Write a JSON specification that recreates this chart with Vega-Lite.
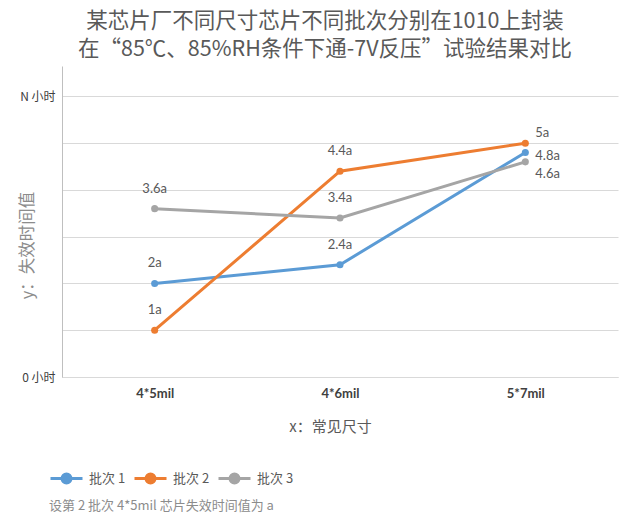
{
  "$schema": "https://vega.github.io/schema/vega-lite/v6.json",
  "width": 556,
  "height": 311,
  "autosize": {"type": "none"},
  "padding": {"left": 62, "top": 66, "right": 22, "bottom": 152},
  "background": "white",
  "title": {
    "text": ["某芯片厂不同尺寸芯片不同批次分别在1010上封装", "在“85℃、85%RH条件下通-7V反压”试验结果对比"],
    "anchor": "middle",
    "frame": "group",
    "dx": -15,
    "offset": 6,
    "fontSize": 21.5,
    "lineHeight": 28,
    "font": "Noto Sans CJK SC",
    "fontWeight": "normal",
    "color": "#595959"
  },
  "data": {
    "values": [
      {"size": "4*5mil", "batch": "批次 1", "value": 2, "label": "2a"},
      {"size": "4*6mil", "batch": "批次 1", "value": 2.4, "label": "2.4a"},
      {"size": "5*7mil", "batch": "批次 1", "value": 4.8, "label": "4.8a"},
      {"size": "4*5mil", "batch": "批次 2", "value": 1, "label": "1a"},
      {"size": "4*6mil", "batch": "批次 2", "value": 4.4, "label": "4.4a"},
      {"size": "5*7mil", "batch": "批次 2", "value": 5, "label": "5a"},
      {"size": "4*5mil", "batch": "批次 3", "value": 3.6, "label": "3.6a"},
      {"size": "4*6mil", "batch": "批次 3", "value": 3.4, "label": "3.4a"},
      {"size": "5*7mil", "batch": "批次 3", "value": 4.6, "label": "4.6a"}
    ]
  },
  "encoding": {
    "x": {
      "field": "size",
      "type": "nominal",
      "sort": ["4*5mil", "4*6mil", "5*7mil"],
      "scale": {"type": "point", "padding": 0.5},
      "axis": {
        "domainColor": "#d9d9d9",
        "ticks": false,
        "grid": false,
        "labelAngle": 0,
        "labelFont": "Lato",
        "labelFontWeight": "bold",
        "labelFontSize": 13,
        "labelColor": "#404040",
        "labelPadding": 10,
        "title": "x：常见尺寸",
        "titleFont": "Noto Sans CJK SC",
        "titleFontWeight": "normal",
        "titleFontSize": 15,
        "titleColor": "#595959",
        "titleX": 268,
        "titleY": 49,
        "titleBaseline": "middle"
      }
    },
    "y": {
      "field": "value",
      "type": "quantitative",
      "scale": {"domain": [0, 6.65], "nice": false},
      "axis": {
        "values": [0, 1, 2, 3, 4, 5, 6],
        "labelExpr": "datum.value == 6 ? 'N 小时' : datum.value == 0 ? '0 小时' : ''",
        "domainColor": "#bfbfbf",
        "ticks": false,
        "grid": true,
        "gridColor": "#d9d9d9",
        "labelFont": "Noto Sans CJK SC",
        "labelFontSize": 12,
        "labelColor": "#404040",
        "labelPadding": 7,
        "title": "y：失效时间值",
        "titleFont": "Noto Sans CJK SC",
        "titleFontWeight": "normal",
        "titleFontSize": 16.5,
        "titleColor": "#8c8c8c",
        "titleX": -35,
        "titleY": 179,
        "titleAngle": -90,
        "titleBaseline": "middle"
      }
    }
  },
  "layer": [
    {
      "mark": {"type": "line", "strokeWidth": 3, "strokeCap": "round", "point": {"filled": true, "size": 50}},
      "encoding": {
        "color": {
          "field": "batch",
          "type": "nominal",
          "scale": {"domain": ["批次 1", "批次 2", "批次 3"], "range": ["#5b9bd5", "#ed7d31", "#a5a5a5"]},
          "legend": {
            "orient": "none",
            "direction": "horizontal",
            "legendX": -13,
            "legendY": 395,
            "symbolType": "M-1,0L1,0M-0.28,0A0.28,0.28,0,1,1,0.28,0A0.28,0.28,0,1,1,-0.28,0Z",
            "symbolSize": 1024,
            "symbolStrokeWidth": 3,
            "labelFont": "Noto Sans CJK SC",
            "labelFontSize": 13,
            "labelColor": "#595959",
            "labelOffset": 5,
            "columnPadding": 2,
            "title": "设第 2 批次 4*5mil 芯片失效时间值为 a",
            "titleOrient": "bottom",
            "titleAnchor": "start",
            "titleFont": "Noto Sans CJK SC",
            "titleFontWeight": "normal",
            "titleFontSize": 13,
            "titleColor": "#8c8c8c",
            "titlePadding": 11,
            "titleLimit": 400
          }
        }
      }
    },
    {
      "transform": [{"filter": "datum.size != '5*7mil'"}],
      "mark": {"type": "text", "dy": -20, "baseline": "middle", "font": "Lato", "fontSize": 13, "color": "#595959"},
      "encoding": {"text": {"field": "label"}}
    },
    {
      "transform": [{"filter": "datum.size == '5*7mil' && datum.batch == '批次 2'"}],
      "mark": {"type": "text", "align": "left", "dx": 10, "dy": -10, "baseline": "middle", "font": "Lato", "fontSize": 13, "color": "#595959"},
      "encoding": {"text": {"field": "label"}}
    },
    {
      "transform": [{"filter": "datum.size == '5*7mil' && datum.batch == '批次 1'"}],
      "mark": {"type": "text", "align": "left", "dx": 10, "dy": 3, "baseline": "middle", "font": "Lato", "fontSize": 13, "color": "#595959"},
      "encoding": {"text": {"field": "label"}}
    },
    {
      "transform": [{"filter": "datum.size == '5*7mil' && datum.batch == '批次 3'"}],
      "mark": {"type": "text", "align": "left", "dx": 10, "dy": 12, "baseline": "middle", "font": "Lato", "fontSize": 13, "color": "#595959"},
      "encoding": {"text": {"field": "label"}}
    }
  ],
  "config": {"view": {"stroke": null}}
}
